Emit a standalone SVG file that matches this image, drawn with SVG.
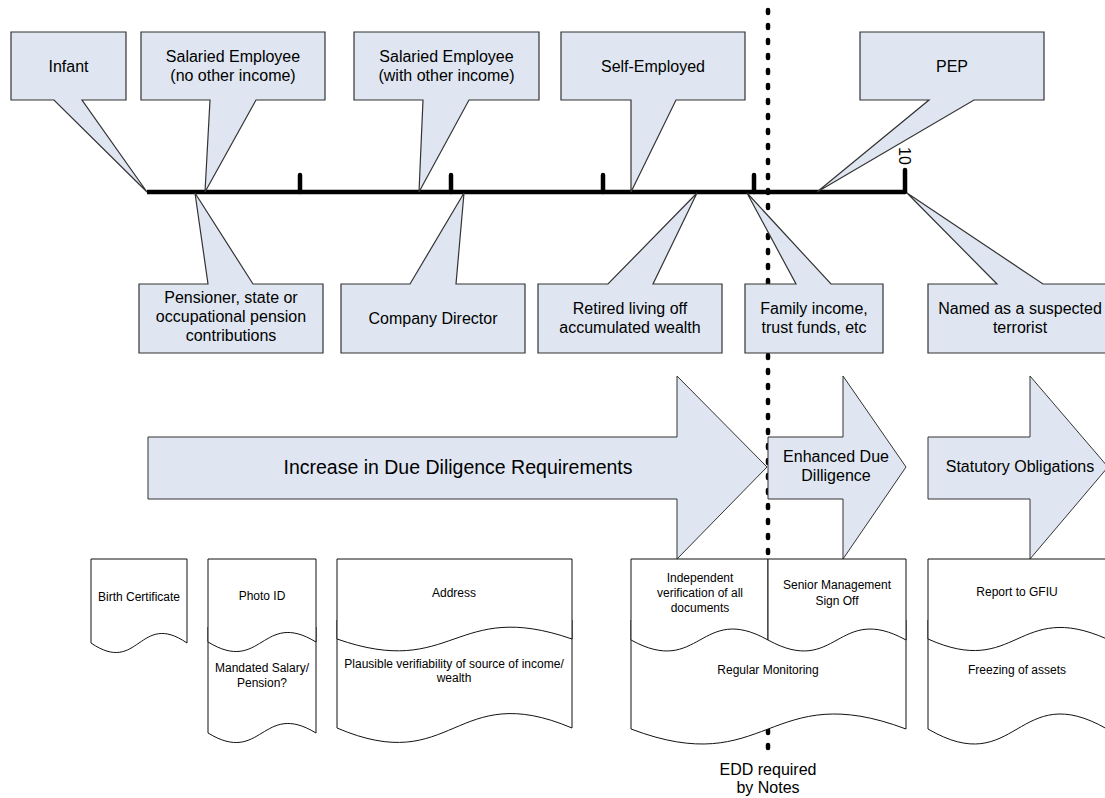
<svg xmlns="http://www.w3.org/2000/svg" width="1105" height="798" viewBox="0 0 1105 798">
<style>
.co{fill:#dfe6f1;stroke:#333;stroke-width:1.2}
.ar{fill:#dfe6f1;stroke:#333;stroke-width:1}
.doc{fill:#fff;stroke:#111;stroke-width:1}
.t{font-family:"Liberation Sans",Arial,sans-serif;font-size:16px;fill:#000;text-anchor:middle}
.ts{font-family:"Liberation Sans",Arial,sans-serif;font-size:12px;fill:#000;text-anchor:middle}
.tl{font-family:"Liberation Sans",Arial,sans-serif;font-size:19.5px;fill:#000;text-anchor:middle}
.tick{stroke:#000;stroke-width:4.5;stroke-linecap:round;fill:none}
</style>
<rect width="1105" height="798" fill="#fff"/>
<g id="edd-line">
<line x1="768" y1="10" x2="768" y2="753" stroke="#000" stroke-width="4.5" stroke-linecap="round" stroke-dasharray="3 12"/>
</g>
<g id="timeline">
<line x1="147" y1="192" x2="905" y2="192" stroke="#000" stroke-width="4.5"/>
<path class="tick" d="M300,175 V192 M451,175 V192 M603,175 V192 M754,175 V192 M905,170 V192"/>
<text class="t" transform="translate(899,147) rotate(90)" style="text-anchor:start">10</text>
</g>
<g id="infant"><path class="co" d="M11,32 H126 V100 H82 L147,192 L54,100 H11 Z"/><text class="t" x="68.5" y="71.5">Infant</text></g>
<g id="salaried-no"><path class="co" d="M141,32 H325 V100 H256 L205,192 L210,100 H141 Z"/><text class="t" x="233" y="62">Salaried Employee</text><text class="t" x="233" y="81">(no other income)</text></g>
<g id="salaried-with"><path class="co" d="M354,32 H539 V100 H469 L419,192 L423,100 H354 Z"/><text class="t" x="446.5" y="62">Salaried Employee</text><text class="t" x="446.5" y="81">(with other income)</text></g>
<g id="self-employed"><path class="co" d="M561,32 H745 V100 H676 L631,192 L631,100 H561 Z"/><text class="t" x="653" y="71.5">Self-Employed</text></g>
<g id="pep"><path class="co" d="M860,32 H1044 V100 H974 L817,192 L929,100 H860 Z"/><text class="t" x="952" y="71.5">PEP</text></g>
<g id="pensioner"><path class="co" d="M139,284 H208 L195,193 L253,284 H323 V353 H139 Z"/><text class="t" x="231" y="303">Pensioner, state or</text><text class="t" x="231" y="322">occupational pension</text><text class="t" x="231" y="341">contributions</text></g>
<g id="director"><path class="co" d="M341,284 H410 L464,193 L456,284 H525 V353 H341 Z"/><text class="t" x="433" y="323.5">Company Director</text></g>
<g id="retired"><path class="co" d="M538,284 H608 L697,193 L653,284 H722 V353 H538 Z"/><text class="t" x="630" y="314">Retired living off</text><text class="t" x="630" y="333">accumulated wealth</text></g>
<g id="family"><path class="co" d="M745,284 H796 L747,193 L831,284 H883 V353 H745 Z"/><text class="t" x="814" y="314">Family income,</text><text class="t" x="814" y="333">trust funds, etc</text></g>
<g id="terrorist"><path class="co" d="M928,284 H997 L907,193 L1043,284 H1112 V353 H928 Z"/><text class="t" x="1020" y="314">Named as a suspected</text><text class="t" x="1020" y="333">terrorist</text></g>
<g id="arrow-increase"><path class="ar" d="M148,437 H677 V376 L767,467 L677,559 V499 H148 Z"/><text class="tl" x="458" y="474">Increase in Due Diligence Requirements</text></g>
<g id="arrow-edd"><path class="ar" d="M768,437 H843 V376 L906,467 L843,559 V499 H768 Z"/><text class="t" x="836" y="462">Enhanced Due</text><text class="t" x="836" y="481">Dilligence</text></g>
<g id="arrow-statutory"><path class="ar" d="M928,437 H1030 V376 L1108,467 L1030,559 V499 H928 Z"/><text class="t" x="1020" y="472">Statutory Obligations</text></g>
<g id="doc-birth"><path class="doc" d="M91,559 H187 V643 C139,610 139,676 91,643 Z"/><text class="ts" x="139" y="601">Birth Certificate</text></g>
<g id="doc-salary"><path class="doc" d="M208,627 H316 V733 C262,700 262,766 208,733 Z"/><text class="ts" x="262" y="672">Mandated Salary/</text><text class="ts" x="262" y="687">Pension?</text></g>
<g id="doc-photo"><path class="doc" d="M208,559 H316 V642 C262,609 262,675 208,642 Z"/><text class="ts" x="262" y="600">Photo ID</text></g>
<g id="doc-income"><path class="doc" d="M337,620 H572 V728 C454,678 454,778 337,728 Z"/><text class="ts" x="454" y="668">Plausible verifiability of source of income/</text><text class="ts" x="454" y="682">wealth</text></g>
<g id="doc-address"><path class="doc" d="M337,559 H572 V639 C454,598 454,680 337,639 Z"/><text class="ts" x="454" y="597">Address</text></g>
<g id="doc-monitoring"><path class="doc" d="M631,620 H906 V729 C768,677 768,781 631,729 Z"/><text class="ts" x="768" y="674">Regular Monitoring</text></g>
<g id="doc-independent"><path class="doc" d="M631,559 H768 V640 C700,602 700,678 631,640 Z"/><text class="ts" x="700" y="582">Independent</text><text class="ts" x="700" y="597">verification of all</text><text class="ts" x="700" y="612">documents</text></g>
<g id="doc-senior"><path class="doc" d="M768,559 H906 V640 C837,602 837,678 768,640 Z"/><text class="ts" x="837" y="589">Senior Management</text><text class="ts" x="837" y="605">Sign Off</text></g>
<g id="doc-freezing"><path class="doc" d="M928,620 H1107 V729 C1017,677 1017,781 928,729 Z"/><text class="ts" x="1017" y="674">Freezing of assets</text></g>
<g id="doc-report"><path class="doc" d="M928,559 H1107 V639 C1017,599 1017,679 928,639 Z"/><text class="ts" x="1017" y="596">Report to GFIU</text></g>
<g id="edd-note"><text class="t" x="768" y="775">EDD required</text><text class="t" x="768" y="793">by Notes</text></g>
</svg>
